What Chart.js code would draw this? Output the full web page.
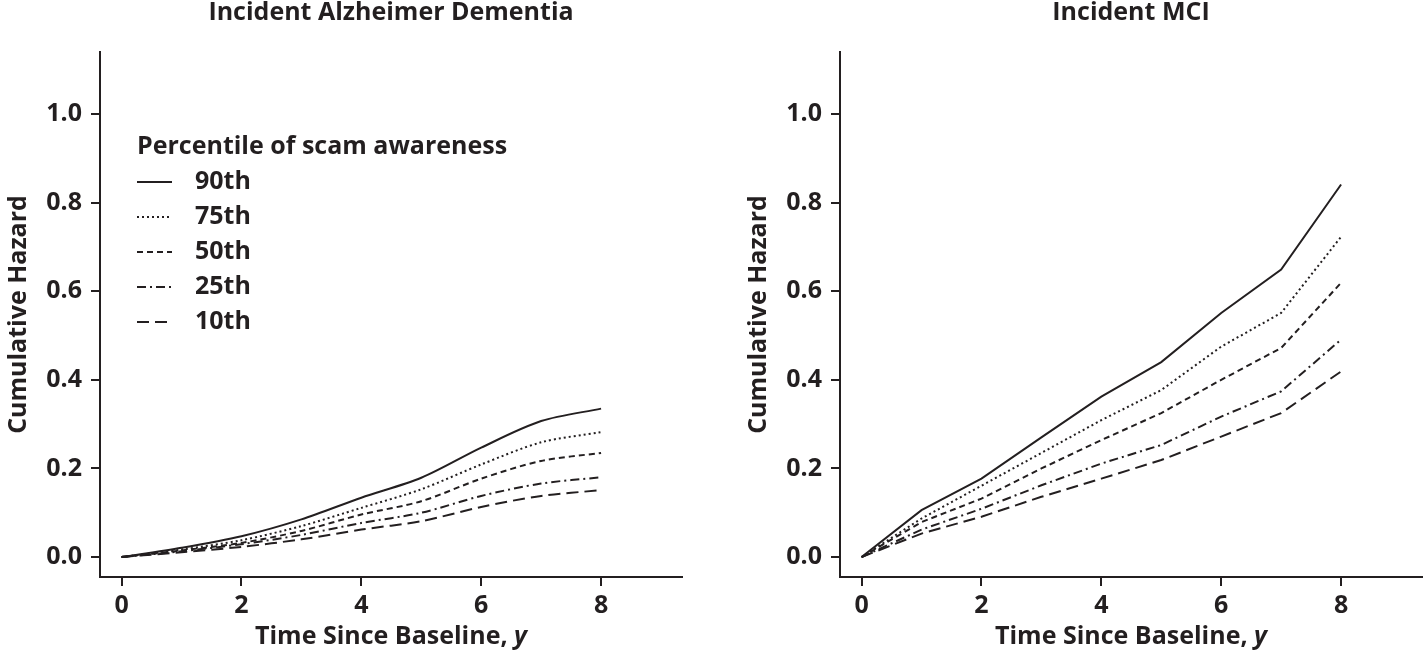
<!DOCTYPE html>
<html>
<head>
<meta charset="utf-8">
<script src="https://cdn.jsdelivr.net/npm/chart.js@4.4.1/dist/chart.umd.min.js"></script>
<style>
    html, body { margin: 0; padding: 0; background: #fff; }
    #wrap { position: relative; width: 1423px; height: 660px; overflow: hidden; }
    .panel { position: absolute; top: 0; height: 660px; }
    #left { left: 0; width: 700px; }
    #right { left: 740px; width: 683px; }
</style>
</head>
<body>
<div id="wrap">
    <div class="panel" id="left"><canvas id="adChart"></canvas></div>
    <div class="panel" id="right"><canvas id="mciChart"></canvas></div>
</div>
<script>
// Data
const years = [0, 1, 2, 3, 4, 5, 6, 7, 8];
const percentiles = ['90th', '75th', '50th', '25th', '10th'];
const xTicks = [0, 2, 4, 6, 8];
const yTicks = [0, 0.2, 0.4, 0.6, 0.8, 1.0];

// Incident Alzheimer dementia
const ad90 = [0, 0.021, 0.047, 0.085, 0.134, 0.179, 0.247, 0.307, 0.335];
const ad75 = [0, 0.017, 0.038, 0.070, 0.111, 0.153, 0.209, 0.259, 0.282];
const ad50 = [0, 0.015, 0.032, 0.059, 0.096, 0.126, 0.177, 0.217, 0.235];
const ad25 = [0, 0.013, 0.029, 0.050, 0.077, 0.100, 0.138, 0.166, 0.180];
const ad10 = [0, 0.011, 0.023, 0.040, 0.062, 0.081, 0.113, 0.138, 0.151];

// Incident MCI
const mci90 = [0, 0.106, 0.177, 0.270, 0.362, 0.440, 0.551, 0.649, 0.841];
const mci75 = [0, 0.087, 0.161, 0.235, 0.309, 0.377, 0.475, 0.551, 0.723];
const mci50 = [0, 0.079, 0.132, 0.200, 0.264, 0.325, 0.400, 0.472, 0.619];
const mci25 = [0, 0.062, 0.109, 0.162, 0.211, 0.253, 0.317, 0.374, 0.491];
const mci10 = [0, 0.053, 0.091, 0.136, 0.177, 0.219, 0.272, 0.325, 0.419];

const INK = '#231f20';
const FONT = 'Open Sans';
const FSIZE = 25;
const dashes = [[], [2, 3], [6, 4], [9, 4, 2, 4], [12, 6]];

Chart.defaults.font.family = FONT;
Chart.defaults.font.weight = 700;
Chart.defaults.font.size = FSIZE;
Chart.defaults.color = INK;

function makeDatasets(seriesList, tension) {
    return seriesList.map((vals, i) => ({
        label: percentiles[i],
        data: years.map((t, j) => ({ x: t, y: vals[j] })),
        borderColor: INK,
        borderWidth: 2,
        borderDash: dashes[i],
        pointRadius: 0,
        tension: tension,
        fill: false
    }));
}

// x axis title with italic "y"
const xTitlePlugin = {
    id: 'xTitle',
    afterDraw(chart) {
        const ctx = chart.ctx;
        const a = chart.chartArea;
        const main = 'Time Since Baseline, ';
        const upright = '700 ' + FSIZE + 'px "' + FONT + '"';
        const italic = 'italic 700 ' + FSIZE + 'px "' + FONT + '"';
        ctx.save();
        ctx.fillStyle = INK;
        ctx.textBaseline = 'middle';
        ctx.textAlign = 'left';
        ctx.font = upright;
        const w1 = ctx.measureText(main).width;
        ctx.font = italic;
        const w2 = ctx.measureText('y').width;
        const x0 = (a.left + a.right) / 2 - (w1 + w2) / 2;
        ctx.font = upright;
        ctx.fillText(main, x0, 637);
        ctx.font = italic;
        ctx.fillText('y', x0 + w1, 637);
        ctx.restore();
    }
};

// legend drawn inside the left panel
const insideLegend = {
    id: 'insideLegend',
    afterDraw(chart, args, opts) {
        if (!opts.show) return;
        const ctx = chart.ctx;
        ctx.save();
        ctx.fillStyle = INK;
        ctx.strokeStyle = INK;
        ctx.textBaseline = 'middle';
        ctx.textAlign = 'left';
        ctx.font = '700 ' + FSIZE + 'px "' + FONT + '"';
        ctx.fillText('Percentile of scam awareness', 137, 147);
        chart.data.datasets.forEach((ds, i) => {
            const y = 182 + i * 35;
            ctx.beginPath();
            ctx.lineWidth = 2;
            ctx.setLineDash(ds.borderDash);
            ctx.moveTo(137, y);
            ctx.lineTo(172, y);
            ctx.stroke();
            ctx.setLineDash([]);
            ctx.fillText(ds.label, 195, y);
        });
        ctx.restore();
    }
};

function makeOptions(title, padRight, showLegend) {
    return {
        responsive: true,
        maintainAspectRatio: false,
        animation: false,
        layout: { padding: { left: 0, right: padRight, top: 0, bottom: 0 } },
        plugins: {
            legend: { display: false },
            tooltip: { enabled: false },
            title: {
                display: true,
                text: title,
                fullSize: false,
                color: INK,
                font: { size: FSIZE, weight: 700, lineHeight: 1.04 },
                padding: { top: 0, bottom: 26 }
            },
            insideLegend: { show: showLegend }
        },
        scales: {
            x: {
                type: 'linear',
                min: -0.36,
                max: 9.35,
                afterBuildTicks: s => { s.ticks = xTicks.map(v => ({ value: v })); },
                afterFit: s => { s.height = 83; },
                ticks: { color: INK, padding: 5, maxRotation: 0, font: { size: FSIZE, weight: 700 } },
                grid: { drawOnChartArea: false, drawTicks: true, tickLength: 9, color: INK, lineWidth: 2 },
                border: { display: true, color: INK, width: 2 }
            },
            y: {
                type: 'linear',
                min: -0.045,
                max: 1.14,
                afterBuildTicks: s => { s.ticks = yTicks.map(v => ({ value: v })); },
                afterFit: s => { s.width = 100; },
                ticks: {
                    color: INK,
                    padding: 9,
                    font: { size: FSIZE, weight: 700 },
                    callback: v => Number(v).toFixed(1)
                },
                grid: { drawOnChartArea: false, drawTicks: true, tickLength: 9, color: INK, lineWidth: 2 },
                border: { display: true, color: INK, width: 2 },
                title: {
                    display: true,
                    text: 'Cumulative Hazard',
                    color: INK,
                    font: { size: FSIZE, weight: 700 },
                    padding: { top: 4, bottom: 0 }
                }
            }
        }
    };
}

new Chart(document.getElementById('adChart'), {
    type: 'line',
    data: { datasets: makeDatasets([ad90, ad75, ad50, ad25, ad10], 0.3) },
    options: makeOptions('Incident Alzheimer Dementia', 18, true),
    plugins: [xTitlePlugin, insideLegend]
});

new Chart(document.getElementById('mciChart'), {
    type: 'line',
    data: { datasets: makeDatasets([mci90, mci75, mci50, mci25, mci10], 0) },
    options: makeOptions('Incident MCI', 1, false),
    plugins: [xTitlePlugin, insideLegend]
});
</script>
</body>
</html>
